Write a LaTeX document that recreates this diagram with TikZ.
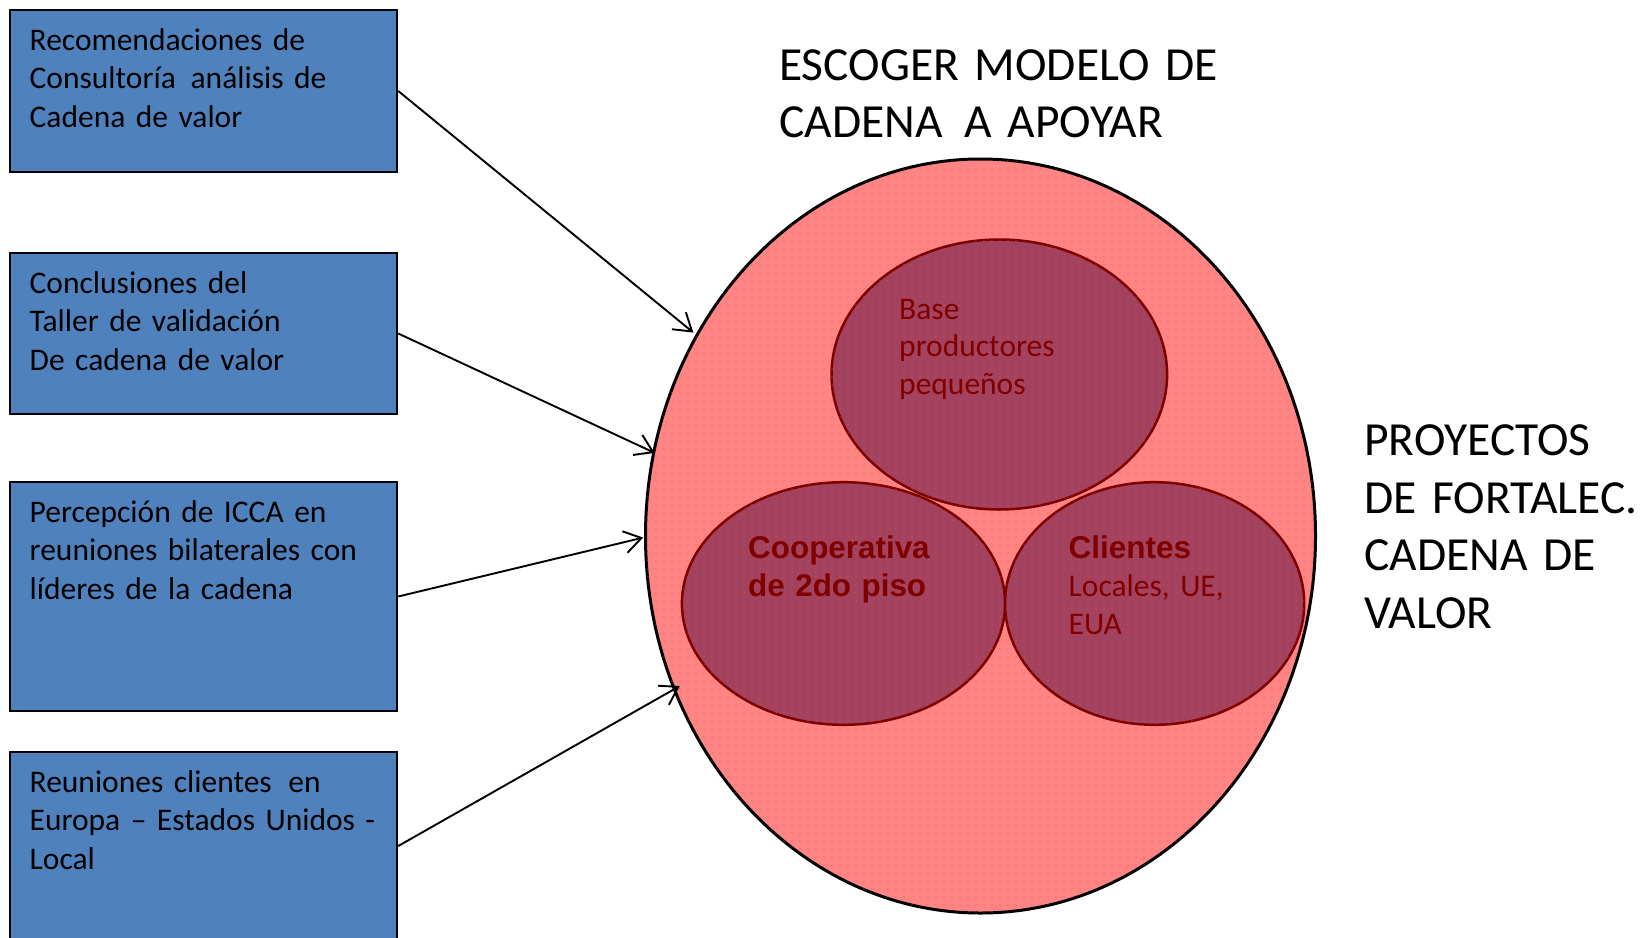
\documentclass[tikz,border=0pt]{standalone}
\usepackage{fontspec}
\setmainfont{Carlito}
\newfontfamily\arialb{Liberation Sans}
\usetikzlibrary{shapes.geometric,arrows.meta,patterns.meta}
\definecolor{boxblue}{HTML}{4F81BD}
\definecolor{bigfill}{HTML}{FF8585}
\definecolor{innerfill}{HTML}{A3425E}
\definecolor{innerline}{HTML}{7F0000}
\definecolor{redtxt}{HTML}{800000}
\begin{document}
\begin{tikzpicture}[x=1pt,y=-1pt,
  srcbox/.style={draw=black,line width=2.5pt,fill=boxblue,rectangle,inner sep=0pt,minimum width=387pt},
  boxtext/.style={anchor=north west,inner sep=0pt,text width=370pt,align=left,font=\fontsize{31.5}{38.5}\selectfont},
  bigtext/.style={anchor=north west,inner sep=0pt,text width=480pt,align=left,font=\fontsize{47.5}{57.5}\selectfont},
  inner/.style={ellipse,draw=innerline,line width=2.5pt,fill=innerfill,inner sep=0pt,
    postaction={pattern={Dots[distance=8pt,radius=0.6pt]},pattern color=red!70}},
  innertext/.style={anchor=north west,inner sep=0pt,text width=300pt,align=left,text=redtxt,font=\fontsize{31.5}{37.8}\selectfont},
  conn/.style={line width=1.9pt,-{Straight Barb[length=17pt,width=22pt]}}]
\useasboundingbox (0,0) rectangle (1640,937);
\clip (0,0) rectangle (1640,937);
\fill[white] (0,0) rectangle (1640,937);

% big ellipse
\node[ellipse,draw=black,line width=3pt,fill=bigfill,inner sep=0pt,minimum width=670pt,minimum height=754pt,
  postaction={pattern={Dots[distance=8pt,radius=0.6pt]},pattern color=red!70}] (big) at (980.5,536) {};
\node[inner,minimum width=335.6pt,minimum height=270pt] (top) at (999.3,374.5) {};
\node[inner,minimum width=323.2pt,minimum height=242.6pt] (left) at (843.5,603.5) {};
\node[inner,minimum width=299.2pt,minimum height=242.6pt] (right) at (1154.6,603.5) {};

\node[innertext] (toptxt) at (899,292.5) {\strut Base\\productores\\peque\~nos};
\node[innertext,font=\fontsize{31.4}{37.5}\selectfont] (lefttxt) at (748,532.25) {\strut{\arialb\bfseries Cooperativa}\\{\arialb\bfseries de 2do piso}};
\node[innertext] (righttxt) at (1068.5,532) {\strut{\arialb\bfseries Clientes}\\Locales, UE,\\EUA};

% titles
\node[bigtext] (title) at (779,39.75) {\strut ESCOGER MODELO DE\\CADENA\hspace{0.46em}A APOYAR};
\node[bigtext,text width=280pt] (proy) at (1364,415.3) {\strut PROYECTOS\\DE FORTALEC.\\CADENA DE\\VALOR};

% source boxes
\node[srcbox,minimum height=162pt] (b1) at (203.5,91) {};
\node[srcbox,minimum height=161pt] (b2) at (203.5,333.5) {};
\node[srcbox,minimum height=229pt] (b3) at (203.5,596.5) {};
\node[srcbox,minimum height=188pt] (b4) at (203.5,846) {};

\node[boxtext] (t1) at (29.5,23) {\strut Recomendaciones de\\Consultoría\hspace{0.47em}análisis de\\Cadena de valor};
\node[boxtext] (t2) at (29.5,266) {\strut Conclusiones del\\Taller de validación\\De cadena de valor};
\node[boxtext] (t3) at (29.5,495) {\strut Percepción de ICCA en\\reuniones bilaterales con\\líderes de la cadena};
\node[boxtext] (t4) at (29.5,765) {\strut Reuniones clientes\hspace{0.53em}en\\Europa – Estados Unidos -\\Local};

% arrow tips on the outer ellipse
\coordinate (p1) at (693.4,332.6);
\coordinate (p2) at (654.7,452.9);
\coordinate (p3) at (643.2,537.6);
\coordinate (p4) at (679.8,686);

% connectors
\draw[conn] (b1.east) -- (p1);
\draw[conn] (b2.east) -- (p2);
\draw[conn] (b3.east) -- (p3);
\draw[conn] (b4.east) -- (p4);
\end{tikzpicture}
\end{document}
